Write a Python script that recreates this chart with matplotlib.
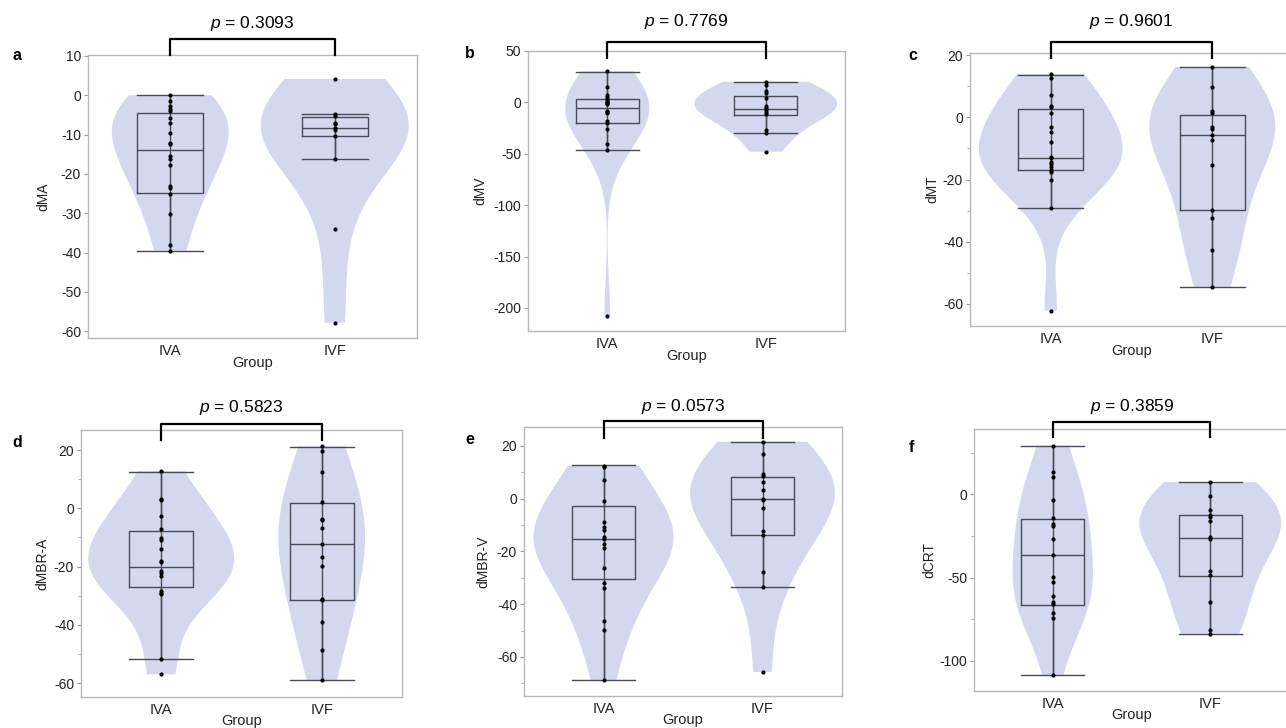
import numpy as np
import matplotlib
matplotlib.use('Agg')
import matplotlib.pyplot as plt
import matplotlib.transforms as mtransforms
from matplotlib import cbook, mlab
from matplotlib.ticker import MultipleLocator

plt.rcParams['font.family'] = ['Liberation Sans', 'DejaVu Sans']
plt.rcParams['axes.unicode_minus'] = False
plt.rcParams['mathtext.fontset'] = 'custom'
plt.rcParams['mathtext.it'] = 'Liberation Sans:italic'
plt.rcParams['mathtext.rm'] = 'Liberation Sans'

groups = ['IVA', 'IVF']

#------ values ------
iva_ma = [0.0, -1.6, -2.8, -3.5, -4.1, -5.8, -7.1, -9.6, -12.2, -12.4, -15.4, -16.1,
          -17.7, -23.2, -23.7, -25.0, -30.1, -38.0, -39.5]
ivf_ma = [4.1, -4.7, -5.2, -7.1, -7.4, -8.4, -8.9, -10.5, -16.3, -34.1, -57.8]

iva_mv = [30.2, 15.2, 7.1, 5.5, 3.6, 1.6, 0.3, -0.3, -1.9, -8.1, -9.0, -10.0, -17.8,
          -20.0, -26.3, -40.5, -46.0, -207.5]
ivf_mv = [20.1, 16.5, 11.0, 8.8, 3.9, -3.6, -5.8, -7.5, -9.4, -11.3, -26.9, -29.8, -48.0]

iva_mt = [13.9, 12.5, 7.3, 3.6, 3.2, 1.3, -3.1, -4.7, -7.8, -12.6, -13.1, -14.3, -15.1,
          -16.0, -17.0, -17.6, -20.2, -29.3, -62.2]
ivf_mt = [16.2, 9.9, 2.0, 1.5, -3.1, -3.6, -5.6, -7.2, -15.3, -29.9, -32.4, -42.8, -54.5]

iva_mbra = [12.8, 3.2, 2.9, -2.8, -7.0, -10.3, -10.9, -13.8, -18.0, -18.6, -21.4, -22.3,
            -23.2, -28.3, -29.0, -29.3, -51.7, -57.0]
ivf_mbra = [21.3, 19.7, 12.6, 2.1, -3.6, -4.1, -6.8, -12.1, -16.8, -19.7, -31.1, -31.6,
            -39.1, -48.7, -59.0]

iva_mbrv = [12.5, 11.9, 7.1, -0.8, -9.0, -10.6, -12.1, -14.7, -15.2, -17.4, -18.8, -26.3,
            -31.9, -33.9, -46.4, -49.7, -68.9]
ivf_mbrv = [21.5, 16.9, 9.4, 8.6, 6.2, 3.3, 0.0, -0.4, -3.7, -12.4, -13.9, -27.9, -33.4, -65.7]

iva_crt = [29.1, 13.4, 10.2, -3.6, -14.2, -18.0, -18.8, -26.7, -36.5, -49.4, -52.7, -61.1,
           -64.7, -65.9, -71.1, -74.3, -108.4]
ivf_crt = [7.2, -1.0, -9.2, -12.2, -13.4, -15.8, -25.9, -27.1, -46.3, -48.7, -64.7, -81.6, -83.6]

# box stats as drawn: [whisker low, q1, median, q3, whisker high] for IVA, IVF
box_ma = [[-39.5, -24.9, -13.9, -4.6, 0.0], [-16.3, -10.5, -8.4, -5.6, -4.8]]
box_mv = [[-46.0, -20.4, -5.8, 2.9, 29.8], [-30.2, -12.6, -6.8, 6.5, 19.5]]
box_mt = [[-29.3, -17.0, -13.0, 2.7, 13.7], [-54.5, -29.9, -5.6, 0.7, 16.2]]
box_mbra = [[-51.7, -26.9, -20.1, -7.9, 12.6], [-59.0, -31.6, -12.3, 1.9, 21.1]]
box_mbrv = [[-68.9, -30.6, -15.3, -3.0, 12.6], [-33.5, -13.9, 0.0, 8.2, 21.5]]
box_crt = [[-108.4, -66.5, -36.7, -14.6, 28.9], [-83.8, -49.1, -26.3, -12.2, 7.2]]

p_values = ['0.3093', '0.7769', '0.9601', '0.5823', '0.0573', '0.3859']
y_names = ['dMA', 'dMV', 'dMT', 'dMBR-A', 'dMBR-V', 'dCRT']
letters = ['a', 'b', 'c', 'd', 'e', 'f']

VIOLIN = '#d3d8ee'
BOXC = '#4a4a58'
W, H = 1286, 728


def kde_eval(x, coords):
    # scott bandwidth, a bit widened to get the smooth JMP look
    return mlab.GaussianKDE(x, bw_method=lambda k: 1.15 * k.scotts_factor()).evaluate(coords)


def px_rect(l, r, t, b):
    return [l / W, 1 - b / H, (r - l) / W, (b - t) / H]


fig = plt.figure(figsize=(W / 100, H / 100), dpi=100)


def draw_panel(i, rect, iva, ivf, box, ylim, yticks, minor, ylab_x, bracket, letter_xy, vwidths):
    ax = fig.add_axes(px_rect(*rect))

    # violins
    vstats = cbook.violin_stats([iva, ivf], kde_eval, points=200)
    parts = ax.violin(vstats, positions=[0, 1], widths=vwidths,
                      showmeans=False, showextrema=False, showmedians=False)
    for body in parts['bodies']:
        body.set_facecolor(VIOLIN)
        body.set_edgecolor('none')
        body.set_alpha(1)

    # box plots
    stats = [dict(whislo=b[0], q1=b[1], med=b[2], q3=b[3], whishi=b[4], fliers=[]) for b in box]
    lp = dict(color=BOXC, linewidth=1.0)
    ax.bxp(stats, positions=[0, 1], widths=0.4, capwidths=0.4, showfliers=False,
           manage_ticks=False, boxprops=lp, whiskerprops=lp, capprops=lp, medianprops=lp)
    ax.vlines([0, 1], [b[0] for b in box], [b[4] for b in box], color=BOXC, linewidth=1.0, zorder=3)

    # points
    ax.scatter(np.zeros(len(iva)), iva, s=9, color='black', zorder=4, linewidths=0)
    ax.scatter(np.ones(len(ivf)), ivf, s=9, color='black', zorder=4, linewidths=0)

    ax.set_xlim(-0.5, 1.5)
    ax.set_ylim(*ylim)
    ax.set_xticks([0, 1])
    ax.set_xticklabels(groups)
    ax.set_yticks(yticks)
    if minor:
        ax.yaxis.set_minor_locator(MultipleLocator(minor))
    for s in ax.spines.values():
        s.set_color('#b8b8b8')
        s.set_linewidth(1.0)
    ax.tick_params(axis='y', length=3, width=0.8, color='#999999', labelsize=10,
                   pad=2, labelcolor='#222222')
    ax.tick_params(axis='y', which='minor', length=2, width=0.6, color='#aaaaaa')
    ax.tick_params(axis='x', length=0, pad=4, labelsize=10.5, labelcolor='#222222')

    ax.set_ylabel(y_names[i], fontsize=10, color='#222222')
    ax.yaxis.set_label_coords(ylab_x, 0.5)
    ax.set_xlabel('Group', fontsize=10.5, color='#222222')
    ax.xaxis.set_label_coords(0.5, -0.065)

    # significance bracket
    top, leg, ptxt = bracket
    trans = mtransforms.blended_transform_factory(ax.transData, ax.transAxes)
    ax.plot([0, 0, 1, 1], [leg, top, top, leg], transform=trans, color='black',
            linewidth=1.6, clip_on=False, zorder=6)
    ax.text(0.5, ptxt, '$p$ = ' + p_values[i], transform=trans, ha='center',
            va='baseline', fontsize=12.5)

    fig.text(letter_xy[0] / W, 1 - letter_xy[1] / H, letters[i], fontsize=11.5,
             fontweight='bold', ha='center', va='center')
    return ax


draw_panel(0, (88, 417, 55, 338), iva_ma, ivf_ma, box_ma, (-61.7, 10.2),
           range(-60, 11, 10), None, -0.115, (1.055, 1.0, 1.096), (17, 56), [0.71, 0.90])
draw_panel(1, (528, 845, 51, 331), iva_mv, ivf_mv, box_mv, (-222.4, 50),
           [-200, -150, -100, -50, 0, 50], None, -0.129, (1.033, 0.975, 1.089), (470, 53), [0.53, 0.90])
draw_panel(2, (970, 1293, 53, 326), iva_mt, ivf_mt, box_mt, (-67.1, 20.7),
           [-60, -40, -20, 0, 20], 10, -0.096, (1.041, 0.982, 1.099), (913, 56), [0.89, 0.78])
draw_panel(3, (81, 402, 430, 697), iva_mbra, ivf_mbra, box_mbra, (-64.8, 26.9),
           [-60, -40, -20, 0, 20], 10, -0.097, (1.022, 0.963, 1.069), (17, 443), [0.91, 0.54])
draw_panel(4, (524, 842, 427, 696), iva_mbrv, ivf_mbrv, box_mbrv, (-74.8, 27.1),
           [-60, -40, -20, 0, 20], 10, -0.107, (1.022, 0.959, 1.06), (470, 440), [0.88, 0.91])
draw_panel(5, (974, 1289, 429, 691), iva_crt, ivf_crt, box_crt, (-118, 39.1),
           [-100, -50, 0], 25, -0.12, (1.027, 0.969, 1.069), (911, 447), [0.51, 0.90])

fig.savefig('out.png', dpi=100)
